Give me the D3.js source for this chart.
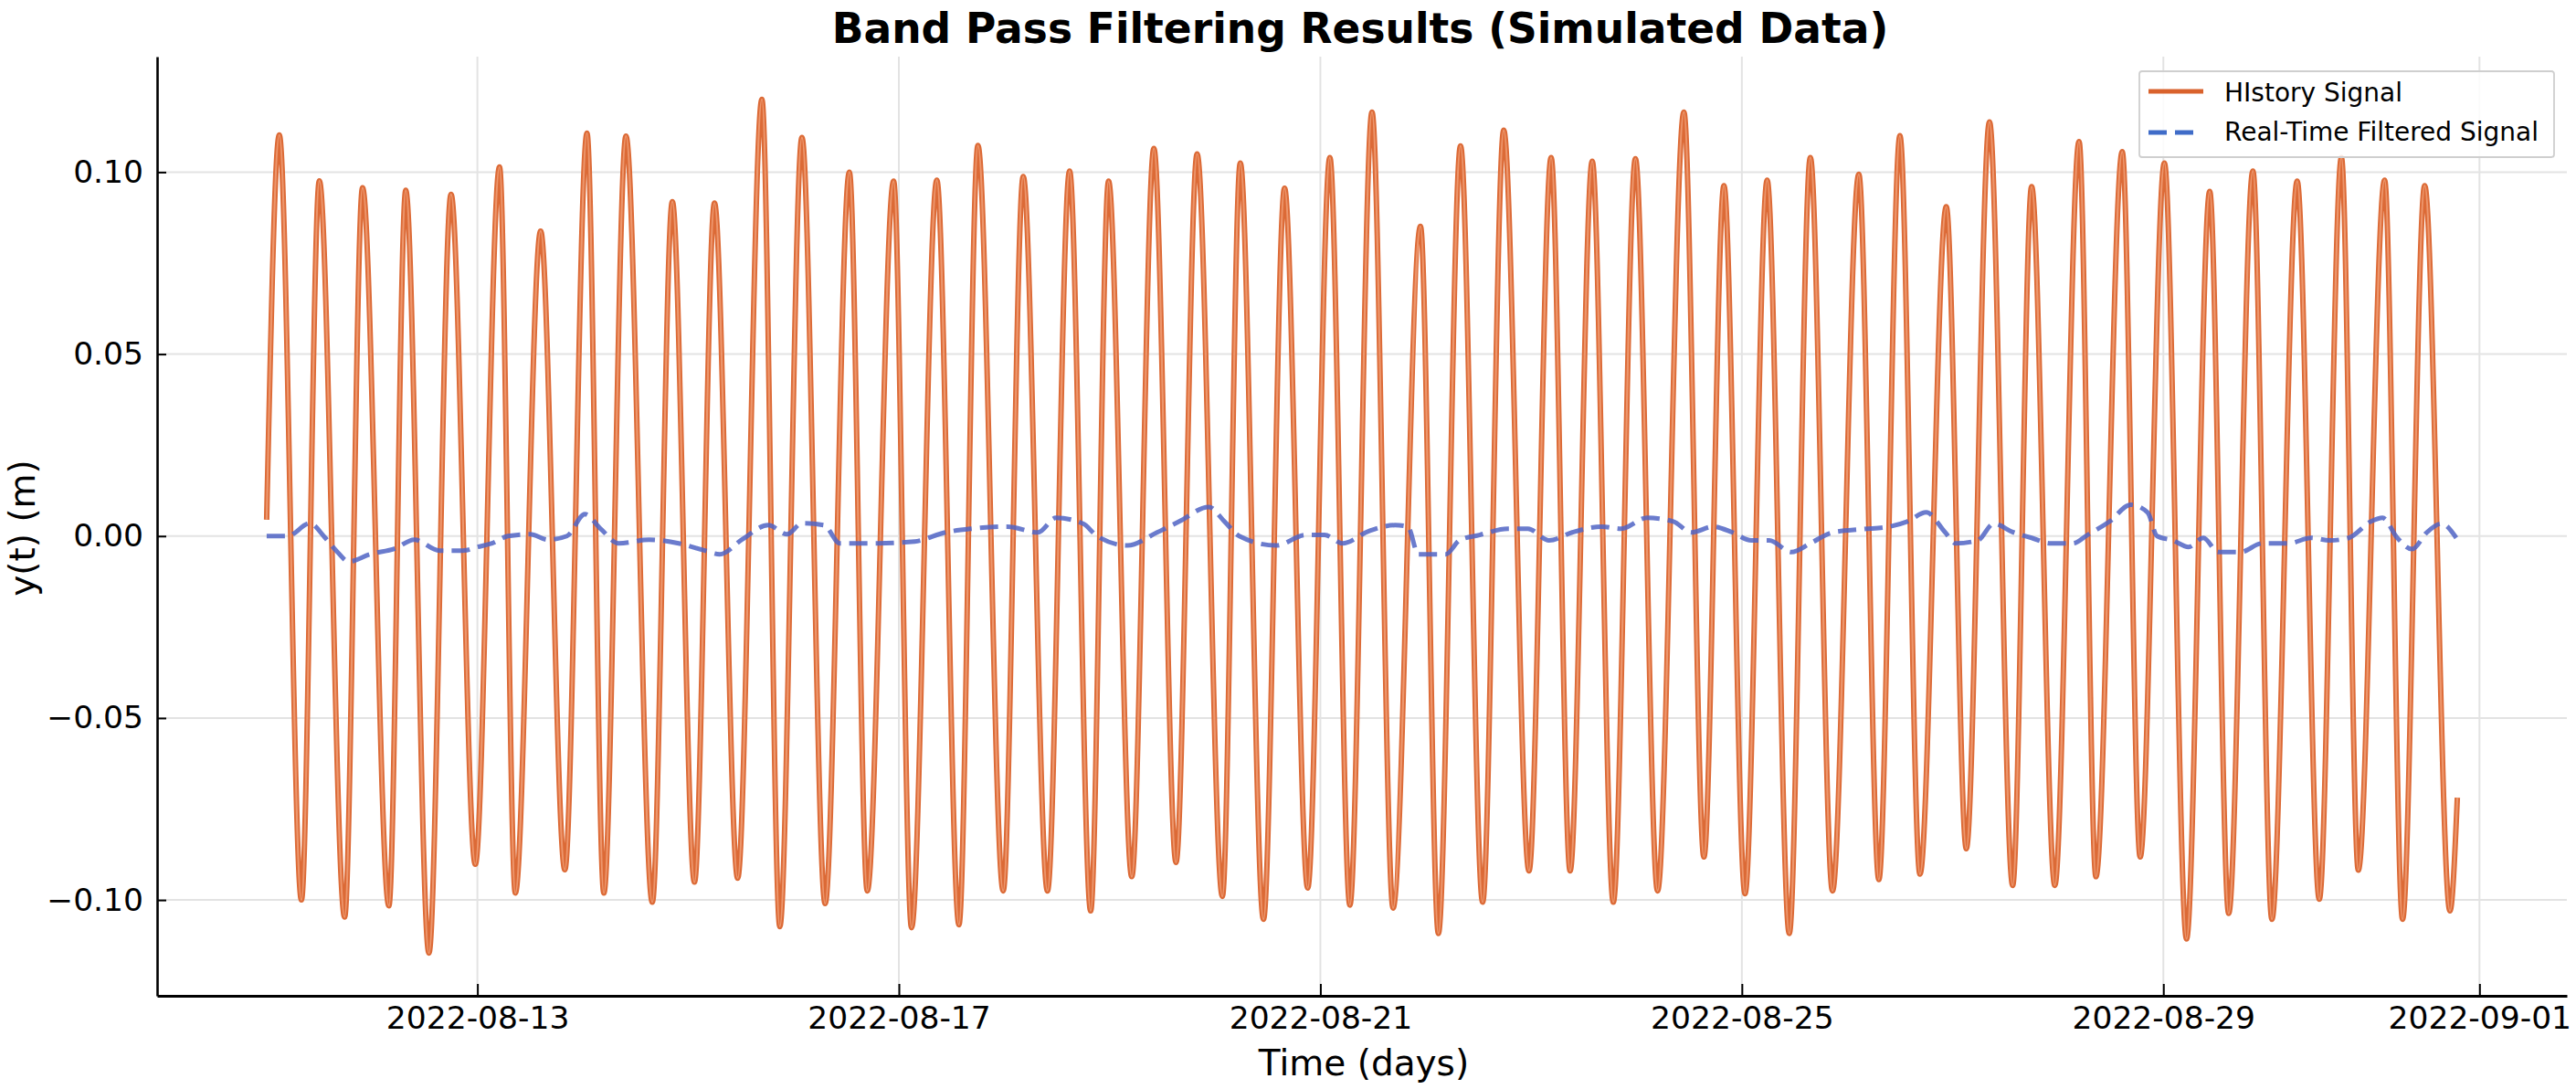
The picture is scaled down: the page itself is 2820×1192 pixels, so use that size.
<!DOCTYPE html>
<html>
<head>
<meta charset="utf-8">
<script src="https://cdn.jsdelivr.net/npm/d3@7"></script>
<style>
  html, body { margin: 0; padding: 0; background: #ffffff; }
  svg { display: block; font-family: "DejaVu Sans", "Liberation Sans", sans-serif; }
</style>
</head>
<body>
<svg id="chart" width="2820" height="1192"></svg>
<script>
// ---------------- Data ----------------
const startDate = "2022-08-11T00:00:00Z";

// History signal: extrema of the oscillation, time in days since start
const historyDays = [
  0.00, 0.12, 0.33, 0.50, 0.74, 0.91, 1.16, 1.32, 1.54, 1.75, 1.98, 2.21, 2.36, 2.60, 2.83,
  3.04, 3.20, 3.41, 3.66, 3.85, 4.06, 4.25, 4.47, 4.70, 4.87, 5.08, 5.30, 5.53, 5.70, 5.95,
  6.12, 6.36, 6.57, 6.75, 6.99, 7.18, 7.41, 7.62, 7.82, 7.99, 8.21, 8.42, 8.63, 8.83, 9.07,
  9.24, 9.46, 9.66, 9.88, 10.09, 10.28, 10.49, 10.69, 10.95, 11.12, 11.33, 11.54, 11.74, 11.98,
  12.19, 12.37, 12.58, 12.78, 12.99, 13.20, 13.45, 13.64, 13.83, 14.03, 14.24, 14.45, 14.65,
  14.86, 15.11, 15.30, 15.50, 15.69, 15.94, 16.13, 16.35, 16.57, 16.75, 16.97, 17.20, 17.36,
  17.61, 17.78, 18.01, 18.22, 18.44, 18.62, 18.85, 19.03, 19.27, 19.48, 19.69, 19.85, 20.10,
  20.27, 20.48, 20.72, 20.79
];
const historyValues = [
  0.0045, 0.1102, -0.1000, 0.0976, -0.1047, 0.0957, -0.1016, 0.0950, -0.1146, 0.0939, -0.0902,
  0.1014, -0.0981, 0.0838, -0.0917, 0.1107, -0.0981, 0.1099, -0.1006, 0.0919, -0.0951, 0.0915,
  -0.0940, 0.1200, -0.1073, 0.1095, -0.1010, 0.1000, -0.0975, 0.0975, -0.1076, 0.0978, -0.1068,
  0.1073, -0.0975, 0.0988, -0.0975, 0.1003, -0.1030, 0.0975, -0.0936, 0.1065, -0.0897, 0.1050,
  -0.0990, 0.1025, -0.1053, 0.0956, -0.0967, 0.1040, -0.1014, 0.1165, -0.1022, 0.0851, -0.1092,
  0.1072, -0.1006, 0.1115, -0.0920, 0.1040, -0.0920, 0.1030, -0.1006, 0.1037, -0.0975, 0.1165,
  -0.0882, 0.0963, -0.0983, 0.0978, -0.1092, 0.1040, -0.0975, 0.0994, -0.0944, 0.1100, -0.0929,
  0.0905, -0.0859, 0.1138, -0.0960, 0.0960, -0.0960, 0.1084, -0.0936, 0.1056, -0.0882, 0.1025,
  -0.1107, 0.0947, -0.1037, 0.1003, -0.1053, 0.0975, -0.0998, 0.1040, -0.0918, 0.0978, -0.1053,
  0.0963, -0.1030, -0.0719
];

// Real-time filtered signal, time in days since start
const filteredDays = [
  0.00, 0.20, 0.41, 0.55, 0.66, 0.78, 0.98, 1.22, 1.40, 1.64, 1.86, 2.00, 2.14, 2.29, 2.50,
  2.67, 2.85, 3.02, 3.17, 3.34, 3.63, 3.91, 4.16, 4.30, 4.51, 4.76, 4.94, 5.08, 5.29, 5.44,
  5.80, 6.15, 6.44, 6.68, 7.03, 7.32, 7.49, 7.75, 7.88, 8.17, 8.45, 8.66, 8.94, 9.09, 9.23,
  9.58, 9.86, 10.04, 10.21, 10.47, 10.71, 10.83, 10.93, 11.19, 11.32, 11.51, 11.78, 11.97,
  12.17, 12.39, 12.67, 12.85, 13.10, 13.35, 13.52, 13.73, 13.91, 14.09, 14.26, 14.47, 14.65,
  14.86, 15.15, 15.40, 15.57, 15.75, 15.93, 16.03, 16.24, 16.39, 16.57, 16.75, 16.93, 17.14,
  17.28, 17.49, 17.69, 17.85, 17.94, 18.09, 18.24, 18.38, 18.52, 18.73, 18.94, 19.19, 19.40,
  19.58, 19.76, 19.97, 20.08, 20.22, 20.36, 20.50, 20.64, 20.78
];
const filteredValues = [
  0.0000, 0.0000, 0.0035, -0.0003, -0.0040, -0.0070, -0.0050, -0.0034, -0.0010, -0.0040,
  -0.0040, -0.0030, -0.0020, 0.0000, 0.0005, -0.0010, 0.0000, 0.0060, 0.0020, -0.0020,
  -0.0010, -0.0020, -0.0040, -0.0050, -0.0010, 0.0030, 0.0005, 0.0035, 0.0030, -0.0020,
  -0.0020, -0.0015, 0.0010, 0.0020, 0.0026, 0.0010, 0.0050, 0.0034, 0.0000, -0.0026,
  0.0010, 0.0040, 0.0080, 0.0040, 0.0000, -0.0026, 0.0003, 0.0003, -0.0020, 0.0015,
  0.0030, 0.0026, -0.0050, -0.0050, -0.0012, 0.0003, 0.0020, 0.0020, -0.0012, 0.0010,
  0.0026, 0.0020, 0.0050, 0.0040, 0.0010, 0.0026, 0.0010, -0.0012, -0.0012, -0.0044,
  -0.0020, 0.0010, 0.0019, 0.0026, 0.0040, 0.0065, 0.0010, -0.0020, -0.0012, 0.0034,
  0.0011, -0.0005, -0.0020, -0.0020, 0.0003, 0.0040, 0.0086, 0.0065, 0.0000, -0.0012,
  -0.0030, -0.0005, -0.0044, -0.0044, -0.0020, -0.0020, -0.0005, -0.0012, -0.0005, 0.0040,
  0.0050, -0.0005, -0.0036, 0.0010, 0.0034, -0.0005
];

const xTickLabels = ["2022-08-13", "2022-08-17", "2022-08-21", "2022-08-25", "2022-08-29", "2022-09-01"];
const yTickValues = [-0.10, -0.05, 0.00, 0.05, 0.10];
const seriesNames = ["HIstory Signal", "Real-Time Filtered Signal"];
const titleText = "Band Pass Filtering Results (Simulated Data)";
const xLabelText = "Time (days)";
const yLabelText = "y(t) (m)";

(function () {
  const DAY = 86400000;
  const t0 = Date.parse(startDate);
  const history = historyDays.map((d, i) => ({ t: new Date(t0 + d * DAY), v: historyValues[i] }));
  const filtered = filteredDays.map((d, i) => ({ t: new Date(t0 + d * DAY), v: filteredValues[i] }));

  const svg = d3.select("#chart");
  const pL = 172, pR = 2810, pT = 62, pB = 1090;

  // matplotlib-like 5% margins
  const all = history.concat(filtered);
  const tExt = d3.extent(all, d => +d.t);
  const tPad = (tExt[1] - tExt[0]) * 0.05;
  const vExt = d3.extent(all, d => d.v);
  const vPad = (vExt[1] - vExt[0]) * 0.05;

  const x = d3.scaleUtc().domain([new Date(tExt[0] - tPad), new Date(tExt[1] + tPad)]).range([pL, pR]);
  const y = d3.scaleLinear().domain([vExt[0] - vPad, vExt[1] + vPad]).range([pB, pT]);

  const xTicks = xTickLabels.map(s => new Date(s + "T00:00:00Z"));

  // Grid
  const grid = svg.append("g").attr("stroke", "#e3e3e3").attr("stroke-width", 2);
  grid.selectAll("line.gx").data(xTicks).join("line").attr("class", "gx")
    .attr("x1", d => x(d)).attr("x2", d => x(d)).attr("y1", pT).attr("y2", pB);
  grid.selectAll("line.gy").data(yTickValues).join("line").attr("class", "gy")
    .attr("x1", pL).attr("x2", pR).attr("y1", d => y(d)).attr("y2", d => y(d));

  // Lines
  const line = d3.line().x(d => x(d.t)).y(d => y(d.v)).curve(d3.curveMonotoneX);

  svg.append("path").datum(history)
    .attr("fill", "none").attr("stroke", "#dc6a36").attr("stroke-width", 6)
    .attr("stroke-linejoin", "round").attr("d", line);
  svg.append("path").datum(history)
    .attr("fill", "none").attr("stroke", "#f3a57f").attr("stroke-width", 2.2)
    .attr("stroke-opacity", 0.75).attr("stroke-linejoin", "round").attr("d", line);

  svg.append("path").datum(filtered)
    .attr("fill", "none").attr("stroke", "#5064c4").attr("stroke-width", 5)
    .attr("stroke-opacity", 0.85)
    .attr("stroke-dasharray", "20,9").attr("d", line);

  // Axes
  const xAxis = d3.axisBottom(x).tickValues(xTicks)
    .tickFormat(d3.utcFormat("%Y-%m-%d")).tickSizeInner(-13).tickSizeOuter(0).tickPadding(12);
  const yAxis = d3.axisLeft(y).tickValues(yTickValues)
    .tickFormat(d3.format(".2f")).tickSizeInner(-10).tickSizeOuter(0).tickPadding(15);

  const gx = svg.append("g").attr("transform", `translate(0,${pB})`).call(xAxis);
  const gy = svg.append("g").attr("transform", `translate(${pL},0)`).call(yAxis);
  [gx, gy].forEach(g => {
    g.select(".domain").attr("stroke", "#000").attr("stroke-width", 3);
    g.selectAll(".tick line").attr("stroke", "#000").attr("stroke-width", 2);
    g.selectAll(".tick text").attr("fill", "#000")
      .style("font-family", "'DejaVu Sans', sans-serif").style("font-size", "34.5px");
  });
  gy.select(".domain").attr("stroke-width", 2.6);

  // Titles
  svg.append("text").attr("x", 1489).attr("y", 47).attr("text-anchor", "middle")
    .style("font-size", "45.5px").style("font-weight", "bold").attr("fill", "#000").text(titleText);
  svg.append("text").attr("x", 1493).attr("y", 1177).attr("text-anchor", "middle")
    .style("font-size", "39px").attr("fill", "#000").text(xLabelText);
  svg.append("text").attr("transform", "translate(38,578) rotate(-90)").attr("text-anchor", "middle")
    .style("font-size", "39px").attr("fill", "#000").text(yLabelText);

  // Legend
  const lg = svg.append("g");
  lg.append("rect").attr("x", 2342).attr("y", 78).attr("width", 454).attr("height", 94)
    .attr("rx", 3).attr("fill", "#fff").attr("fill-opacity", 0.85)
    .attr("stroke", "#cfcfcf").attr("stroke-width", 1.8);
  const legendItems = [
    { name: seriesNames[0], color: "#d9622c", dash: null, yLine: 100, yText: 111, x2: 2412 },
    { name: seriesNames[1], color: "#3f6cc8", dash: "20,9", yLine: 145, yText: 154, x2: 2404 }
  ];
  legendItems.forEach(it => {
    lg.append("line").attr("x1", 2352).attr("x2", it.x2).attr("y1", it.yLine).attr("y2", it.yLine)
      .attr("stroke", it.color).attr("stroke-width", 5).attr("stroke-dasharray", it.dash);
    lg.append("text").attr("x", 2435).attr("y", it.yText).style("font-size", "28px")
      .attr("fill", "#000").text(it.name);
  });
})();
</script>
</body>
</html>
